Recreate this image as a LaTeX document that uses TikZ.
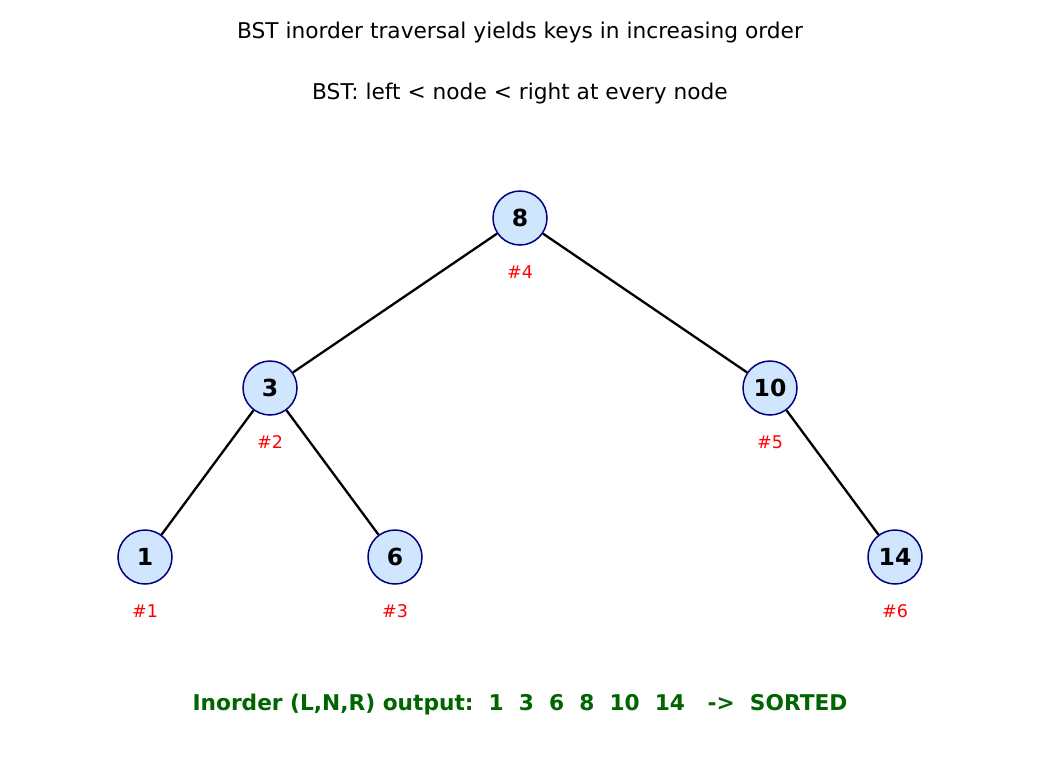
\documentclass[tikz,border=0pt]{standalone}
\usepackage{fontspec}
\setmainfont{DejaVu Sans}
\definecolor{nodefill}{RGB}{208,230,255}
\definecolor{nodeedge}{RGB}{0,0,128}
\definecolor{outgreen}{RGB}{0,100,0}
\begin{document}
\begin{tikzpicture}[x=1pt,y=-1pt,
  bst/.style={circle,draw=nodeedge,fill=nodefill,line width=1.5pt,minimum size=54pt,inner sep=0pt,font=\fontsize{23.5}{26}\selectfont\bfseries},
  ord/.style={text=red,font=\fontsize{17.5}{20}\selectfont},
  edge/.style={line width=2.3pt,black},
  ttl/.style={font=\fontsize{21.7}{25}\selectfont}]
\useasboundingbox (0,0) rectangle (1040,780);
\node[ttl] (title) at (520,33) {BST inorder traversal yields keys in increasing order};
\node[ttl] (sub) at (520,94) {BST: left < node < right at every node};
\node[bst] (n8) at (520,218) {8};
\node[bst] (n3) at (270,388) {3};
\node[bst] (n10) at (770,388) {10};
\node[bst] (n1) at (145,557) {1};
\node[bst] (n6) at (395,557) {6};
\node[bst] (n14) at (895,557) {14};
\draw[edge] (n8) -- (n3);
\draw[edge] (n8) -- (n10);
\draw[edge] (n3) -- (n1);
\draw[edge] (n3) -- (n6);
\draw[edge] (n10) -- (n14);
\node[ord] (o8) at (520,272) {\#4};
\node[ord] (o3) at (270,442) {\#2};
\node[ord] (o10) at (770,442) {\#5};
\node[ord] (o1) at (145,611) {\#1};
\node[ord] (o6) at (395,611) {\#3};
\node[ord] (o14) at (895,611) {\#6};
\node[text=outgreen,font=\fontsize{21.7}{25}\selectfont\bfseries] (out) at (520,704) {Inorder (L,N,R) output:\ \ 1\ \ 3\ \ 6\ \ 8\ \ 10\ \ 14\ \ \ ->\ \ SORTED};
\end{tikzpicture}
\end{document}
